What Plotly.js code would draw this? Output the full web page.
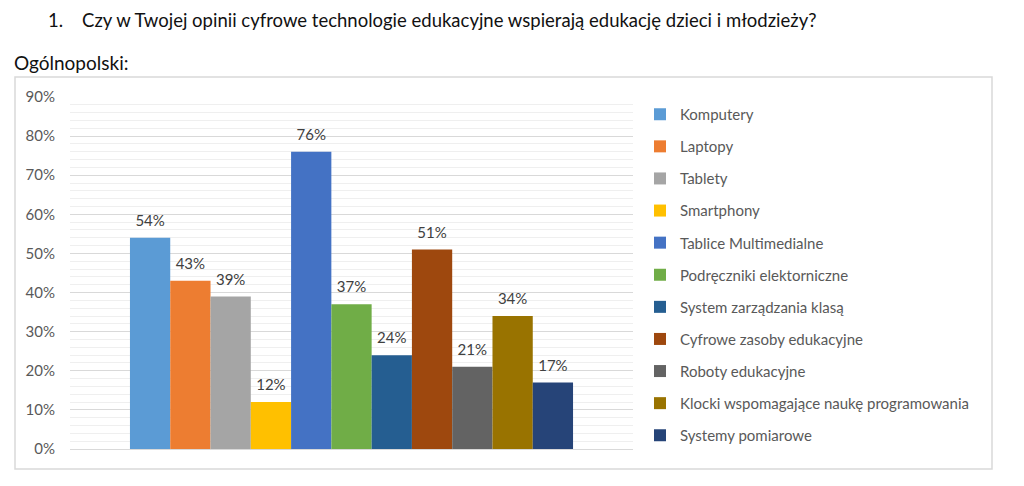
<!DOCTYPE html>
<html>
<head>
<meta charset="utf-8">
<script src="https://cdn.plot.ly/plotly-3.0.1.min.js"></script>
<style>
html,body{margin:0;padding:0;background:#fff;}
#chart{width:1024px;height:486px;}
</style>
</head>
<body>
<div id="chart"></div>
<script>
const category = ["Ogólnopolski"];
const seriesNames = [
  "Komputery",
  "Laptopy",
  "Tablety",
  "Smartphony",
  "Tablice Multimedialne",
  "Podręczniki elektorniczne",
  "System zarządzania klasą",
  "Cyfrowe zasoby edukacyjne",
  "Roboty edukacyjne",
  "Klocki wspomagające naukę programowania",
  "Systemy pomiarowe"
];
const seriesValues = [54, 43, 39, 12, 76, 37, 24, 51, 21, 34, 17];
const seriesColors = ["#5B9BD5","#ED7D31","#A5A5A5","#FFC000","#4472C4","#70AD47","#255E91","#9E480E","#636363","#997300","#264478"];
const yTicks = [0,10,20,30,40,50,60,70,80,90];
const titleText = "1.    Czy w Twojej opinii cyfrowe technologie edukacyjne wspierają edukację dzieci i młodzieży?";
const subtitleText = "Ogólnopolski:";

const FONT = "Lato, 'Open Sans', sans-serif";
const W = 1024, H = 486;
const PL = 70, PR = 633, PT = 97, PB = 449;
const pw = PR - PL, ph = PB - PT;
const px = x => (x - PL) / pw;
const py = y => (PB - y) / ph;

const traces = seriesNames.map((n, i) => ({
  type: 'bar',
  name: n,
  x: category,
  y: [seriesValues[i]],
  marker: {color: seriesColors[i]},
  text: [seriesValues[i] + '%'],
  texttemplate: '<span style="font-size:15px">%{text}</span><br> ',
  textposition: 'outside',
  constraintext: 'none',
  cliponaxis: false,
  textfont: {family: FONT, size: 6, color: '#404040'},
  legendgroup: 'g' + i,
  hoverinfo: 'none'
}));

const layout = {
  width: W, height: H,
  margin: {l: PL, r: W - PR, t: PT, b: H - PB},
  paper_bgcolor: '#fff', plot_bgcolor: '#fff',
  barmode: 'group',
  bargap: 0.213,
  bargroupgap: 0,
  showlegend: true,
  font: {family: FONT, size: 15, color: '#595959'},
  xaxis: {
    showticklabels: false, ticks: '', showgrid: false, zeroline: false,
    showline: false, range: [-0.5, 0.5], fixedrange: true
  },
  yaxis: {
    range: [0, 90], tickvals: yTicks, ticktext: yTicks.map(v => v + '%'),
    showgrid: true, gridcolor: '#d9d9d9', gridwidth: 1,
    zeroline: true, zerolinecolor: '#d9d9d9', zerolinewidth: 1,
    showline: false, ticks: '', ticklabelstandoff: 14,
    tickfont: {family: FONT, size: 15, color: '#595959'},
    minor: {dtick: 2, showgrid: true, gridcolor: '#efefef', gridwidth: 1, ticks: ''},
    fixedrange: true
  },
  legend: {
    x: px(640), y: py(98), xanchor: 'left', yanchor: 'top',
    traceorder: 'grouped', tracegroupgap: 9.6,
    font: {family: FONT, size: 15, color: '#595959'},
    bgcolor: 'rgba(0,0,0,0)', itemclick: false, itemdoubleclick: false
  },
  shapes: [{
    type: 'rect', xref: 'paper', yref: 'paper',
    x0: px(15), x1: px(992), y0: py(469), y1: py(77),
    line: {color: '#d9d9d9', width: 1.5}, layer: 'below'
  }],
  annotations: [
    {text: titleText, xref: 'paper', yref: 'paper', x: px(46), y: py(20),
     xanchor: 'left', yanchor: 'middle', showarrow: false,
     font: {family: FONT, size: 18.5, color: '#111'}},
    {text: subtitleText, xref: 'paper', yref: 'paper', x: px(12), y: py(62),
     xanchor: 'left', yanchor: 'middle', showarrow: false,
     font: {family: FONT, size: 19, color: '#111'}}
  ]
};

Plotly.newPlot('chart', traces, layout, {displayModeBar: false, staticPlot: true});
</script>
</body>
</html>
